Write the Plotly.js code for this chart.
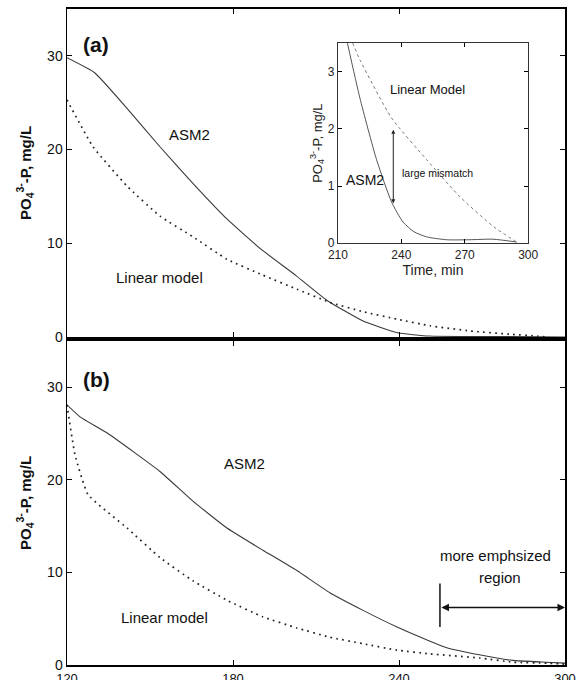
<!DOCTYPE html>
<html>
<head>
<meta charset="utf-8">
<script src="https://cdn.plot.ly/plotly-3.0.1.min.js"></script>
<style>html,body{margin:0;padding:0;background:#fff;}#chart{width:576px;height:680px;}</style>
</head>
<body>
<div id="chart"></div>
<script>
// ---- Panel (a) data ----
var timeA_asm2 = [120, 130, 141.7, 153.6, 165.5, 177.8, 190, 203, 214, 227, 239.3, 251, 265, 280, 300];
var asm2A      = [29.8, 28.2, 24.4, 20.3, 16.4, 12.6, 9.4, 6.5, 3.9, 1.7, 0.45, 0.1, 0.05, 0.05, 0.0];
var timeA_lin  = [120, 129.4, 141.7, 153.6, 165.5, 177.8, 190.8, 203.1, 215, 227, 239.3, 251.2, 265.7, 280, 290, 293];
var linearA    = [25.3, 20.3, 16.1, 12.9, 10.7, 8.3, 6.6, 5.1, 3.7, 2.7, 1.9, 1.2, 0.64, 0.3, 0.1, 0.0];

// ---- Panel (b) data ----
var timeB_asm2 = [120, 124.7, 134.8, 153.6, 165.5, 177.8, 190.8, 203.1, 215, 227, 239.3, 251, 257, 269, 281, 293, 300];
var asm2B      = [28.1, 26.8, 25.0, 20.9, 17.7, 14.8, 12.4, 10.2, 7.8, 5.9, 4.1, 2.6, 1.9, 1.1, 0.5, 0.3, 0.2];
var timeB_lin  = [120, 122.9, 127.6, 141.7, 153.6, 165.5, 177.8, 190.8, 203.1, 215, 227, 239.3, 251.2, 269.3, 281.2, 293.5, 300];
var linearB    = [28.1, 22.7, 18.4, 14.8, 11.6, 9.1, 7.0, 5.2, 4.0, 3.0, 2.3, 1.6, 1.2, 0.75, 0.3, 0.2, 0.1];

// ---- Inset data ----
var timeI_asm2 = [214.5, 220.4, 228.3, 235.4, 240.8, 246, 252, 261.5, 272, 283.4, 294.6];
var asm2I      = [3.5, 2.54, 1.46, 0.72, 0.37, 0.2, 0.11, 0.06, 0.06, 0.07, 0.02];
var timeI_lin  = [217, 220.4, 235.4, 252, 267.8, 283.6, 294.6];
var linearI    = [3.5, 3.21, 2.19, 1.46, 0.81, 0.29, 0.02];

// ---- tick labels ----
var mainXTicks = [120, 180, 240, 300];
var mainYTicks = [0, 10, 20, 30];
var insetXTicks = [210, 240, 270, 300];
var insetYTicks = [0, 1, 2, 3];

var FONT = "Liberation Sans, Arial, Helvetica, sans-serif";
var yTitle = "PO<sub>4</sub><sup>3-</sup>-P, mg/L";

var solid = {color: "#3a3a3a", width: 1.1, dash: "solid", shape: "spline", smoothing: 0.4};
var dotted = {color: "#222", width: 1.7, dash: "1.7px,4.3px", shape: "spline", smoothing: 0.4};

var traces = [
  {x: timeA_asm2, y: asm2A, xaxis: "x", yaxis: "y", mode: "lines", line: solid, name: "ASM2"},
  {x: timeA_lin, y: linearA, xaxis: "x", yaxis: "y", mode: "lines", line: dotted, name: "Linear model"},
  {x: timeB_asm2, y: asm2B, xaxis: "x2", yaxis: "y2", mode: "lines", line: solid, name: "ASM2"},
  {x: timeB_lin, y: linearB, xaxis: "x2", yaxis: "y2", mode: "lines", line: dotted, name: "Linear model"},
  {x: timeI_asm2, y: asm2I, xaxis: "x3", yaxis: "y3", mode: "lines", line: {color: "#555", width: 1, dash: "solid", shape: "spline", smoothing: 0.6}, name: "ASM2"},
  {x: timeI_lin, y: linearI, xaxis: "x3", yaxis: "y3", mode: "lines", line: {color: "#777", width: 1, dash: "dot", shape: "spline", smoothing: 0.6}, name: "Linear Model"}
];

function mainX(domainAnchor, showLabels) {
  return {
    anchor: domainAnchor, domain: [0, 1], range: [120, 300],
    tickvals: mainXTicks, ticktext: mainXTicks.map(String), showticklabels: showLabels,
    ticks: "inside", ticklen: 5, tickcolor: "#000", tickwidth: 1,
    showline: true, linecolor: "#000", linewidth: 2, mirror: "ticks",
    showgrid: false, zeroline: false,
    tickfont: {family: FONT, size: 13, color: "#111"}
  };
}
function mainY(domain, anchor) {
  return {
    anchor: anchor, domain: domain, range: [0, 35],
    tickvals: mainYTicks, ticks: "inside", ticklen: 5, tickcolor: "#000", tickwidth: 1,
    showline: true, linecolor: "#000", linewidth: 1.5, mirror: "ticks",
    showgrid: false, zeroline: false,
    tickfont: {family: FONT, size: 14, color: "#111"},
    title: {text: yTitle, font: {family: FONT, size: 15, color: "#111", weight: "bold"}, standoff: 12}
  };
}

var ann = function(text, x, y, xref, yref, size, extra) {
  var a = {text: text, x: x, y: y, xref: xref, yref: yref, showarrow: false,
           font: {family: FONT, size: size, color: "#111"}};
  if (extra) for (var k in extra) a[k] = extra[k];
  return a;
};

var layout = {
  width: 576, height: 680,
  margin: {l: 67, r: 11, t: 9, b: 15},
  paper_bgcolor: "#fff", plot_bgcolor: "#fff",
  showlegend: false,
  xaxis: mainX("y", false),
  yaxis: mainY([0.5, 1], "x"),
  xaxis2: mainX("y2", true),
  yaxis2: mainY([0, 0.494], "x2"),
  xaxis3: {
    anchor: "y3", domain: [0.544, 0.926], range: [210, 300],
    tickvals: insetXTicks, ticks: "inside", ticklen: 4, tickcolor: "#000",
    showline: true, linecolor: "#333", linewidth: 1, mirror: "ticks",
    showgrid: false, zeroline: false,
    tickfont: {family: FONT, size: 12, color: "#222"},
    title: {text: "Time, min", font: {family: FONT, size: 14, color: "#222"}, standoff: 4}
  },
  yaxis3: {
    anchor: "x3", domain: [0.643, 0.948], range: [0, 3.5],
    tickvals: insetYTicks, ticks: "inside", ticklen: 4, tickcolor: "#000",
    showline: true, linecolor: "#333", linewidth: 1, mirror: "ticks",
    showgrid: false, zeroline: false,
    tickfont: {family: FONT, size: 12, color: "#222"},
    title: {text: yTitle, font: {family: FONT, size: 13, color: "#222"}, standoff: 2}
  },
  annotations: [
    ann("<b>(a)</b>", 130.5, 31.2, "x", "y", 21),
    ann("<b>(b)</b>", 130.5, 30.8, "x2", "y2", 21),
    ann("ASM2", 164.4, 21.6, "x", "y", 15),
    ann("Linear model", 153.6, 6.4, "x", "y", 15),
    ann("ASM2", 184.3, 21.8, "x2", "y2", 15),
    ann("Linear model", 155.4, 5.1, "x2", "y2", 15),
    ann("more emphsized", 275, 11.8, "x2", "y2", 15),
    ann("region", 276.5, 9.4, "x2", "y2", 15),
    ann("Linear Model", 252.2, 2.68, "x3", "y3", 13),
    ann("large mismatch", 239.4, 1.23, "x3", "y3", 10.5, {xanchor: "left"}),
    ann("ASM2", 222.8, 1.1, "x3", "y3", 14),
    // double-headed arrow in inset
    {x: 236.2, y: 0.70, ax: 236.2, ay: 2.01, xref: "x3", yref: "y3", axref: "x3", ayref: "y3",
     text: "", showarrow: true, arrowhead: 2, startarrowhead: 2, arrowside: "end+start",
     arrowsize: 0.8, arrowwidth: 1, arrowcolor: "#222"},
    // emphasized region arrow in panel (b)
    {x: 300, y: 6.2, ax: 254.8, ay: 6.2, xref: "x2", yref: "y2", axref: "x2", ayref: "y2",
     text: "", showarrow: true, arrowhead: 2, startarrowhead: 2, arrowside: "end+start",
     arrowsize: 1, arrowwidth: 1.5, arrowcolor: "#111"}
  ],
  shapes: [
    {type: "line", xref: "x2", yref: "y2", x0: 254.8, x1: 254.8, y0: 4.1, y1: 8.8,
     line: {color: "#111", width: 1.5}}
  ]
};

Plotly.newPlot("chart", traces, layout, {displayModeBar: false, staticPlot: true});
</script>
</body>
</html>
